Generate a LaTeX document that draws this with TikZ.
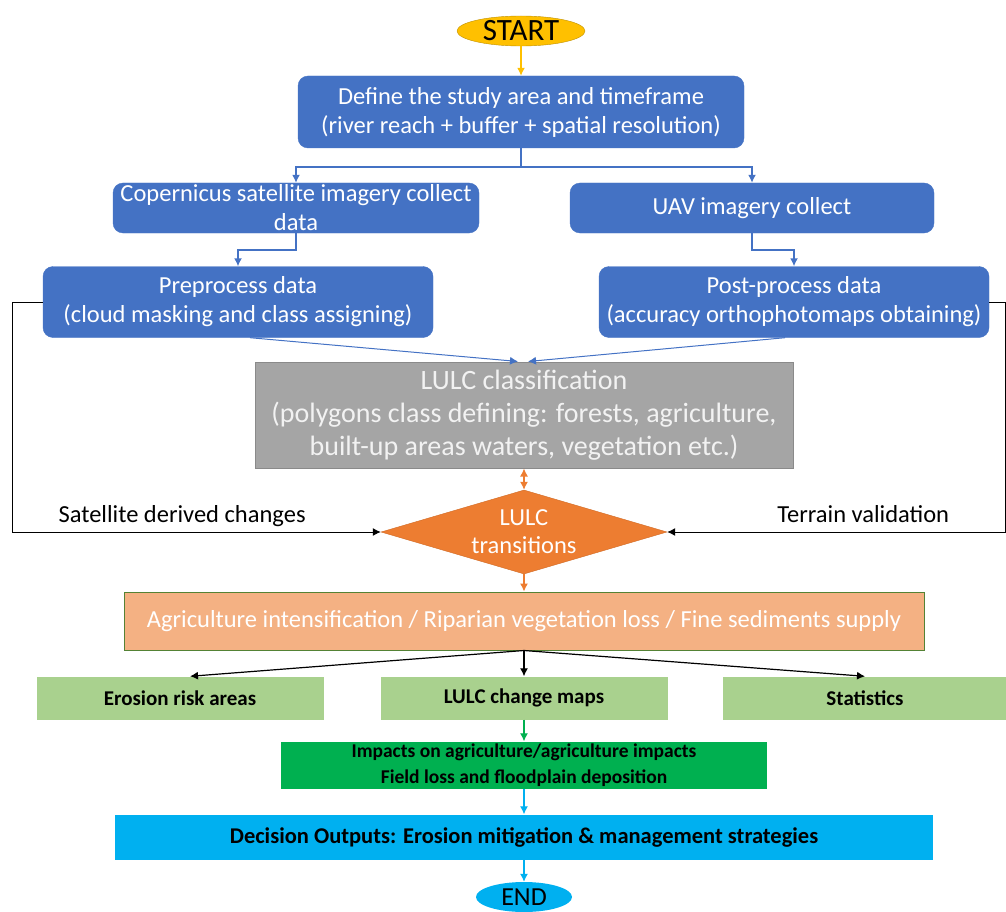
\documentclass[tikz,border=0pt]{standalone}
\usepackage{fontspec}
\setmainfont{Carlito}
\usetikzlibrary{shapes.geometric,arrows.meta}
\definecolor{boxblue}{HTML}{4472C4}
\definecolor{startyellow}{HTML}{FFC000}
\definecolor{startedge}{HTML}{BF9000}
\definecolor{classgray}{HTML}{A5A5A5}
\definecolor{classedge}{HTML}{8A8A8A}
\definecolor{transorange}{HTML}{ED7D31}
\definecolor{transedge}{HTML}{D06A25}
\definecolor{driverpeach}{HTML}{F4B183}
\definecolor{driveredge}{HTML}{548235}
\definecolor{outgreen}{HTML}{A9D18E}
\definecolor{impactgreen}{HTML}{00B050}
\definecolor{decisioncyan}{HTML}{00B0F0}
\tikzset{
  >={Latex[length=8pt,width=8pt]},
  bluebox/.style={rectangle, rounded corners=10pt, fill=boxblue, draw=boxblue, text=white, align=center, inner sep=0pt, font=\fontsize{24.5}{29}\selectfont},
  graybox/.style={rectangle, fill=classgray, draw=classedge, line width=1pt, text=white!95!black, align=center, inner sep=0pt, font=\fontsize{28}{33}\selectfont},
  greenbox/.style={rectangle, fill=outgreen, inner sep=0pt, align=center, font=\fontsize{21}{26}\selectfont\bfseries},
  bluearr/.style={draw=boxblue, line width=1.5pt, ->},
  thinarr/.style={draw=boxblue, line width=1pt, ->},
  blackarr/.style={draw=black, line width=1.2pt, ->},
  sidelabel/.style={font=\fontsize{24.5}{28}\selectfont, inner sep=0pt, anchor=base, yshift=10pt}
}
\begin{document}
\begin{tikzpicture}[x=1pt,y=1pt]
\useasboundingbox (0,0) rectangle (1006,-912);
\node (start) [ellipse, fill=startyellow, draw=startedge, minimum width=128pt, minimum height=30pt, inner sep=0pt, font=\fontsize{31}{32}\selectfont] at (521,-31) {START}; % top
\node (define) [bluebox, minimum width=446pt, minimum height=72pt, node distance=81pt, below of = start] {Define the study area and timeframe\\(river reach + buffer + spatial resolution)};
\node (coper) [bluebox, minimum width=366pt, minimum height=50pt, node distance=96pt, below of = define, xshift=-225pt] {Copernicus satellite imagery collect\\data};
\node (uav) [bluebox, minimum width=364pt, minimum height=50pt, node distance=96pt, below of = define, xshift=231pt] {UAV imagery collect};
\node (pre) [bluebox, minimum width=390pt, minimum height=71pt, node distance=94pt, below of = coper, xshift=-58pt] {Preprocess data\\(cloud masking and class assigning)};
\node (post) [bluebox, minimum width=390pt, minimum height=71pt, node distance=94pt, below of = uav, xshift=42pt] {Post-process data\\(accuracy orthophotomaps obtaining)};
\node (lulc) [graybox, minimum width=538pt, minimum height=106pt, node distance=303pt, below of = define, xshift=3pt] {LULC classification\\(polygons class defining: forests, agriculture,\\built-up areas waters, vegetation etc.)};
\node (trans) [diamond, aspect=3.4, fill=transorange, draw=transedge, text=white, align=center, inner sep=0pt, minimum width=286pt, minimum height=84pt, font=\fontsize{24.5}{28}\selectfont, node distance=117pt, below of = lulc] {LULC\\transitions};
\node (agri) [rectangle, fill=driverpeach, draw=driveredge, line width=1pt, text=white, inner sep=0pt, minimum width=800pt, minimum height=58pt, font=\fontsize{24.5}{28}\selectfont, node distance=89pt, below of = trans] {Agriculture intensification / Riparian vegetation loss / Fine sediments supply};
\node (maps) [greenbox, minimum width=287pt, minimum height=43pt, node distance=77pt, below of = agri] {LULC change maps};
\node (erosion) [greenbox, minimum width=287pt, minimum height=43pt, node distance=344pt, left of = maps] {Erosion risk areas};
\node (stats) [greenbox, minimum width=284pt, minimum height=43pt, node distance=341pt, right of = maps] {Statistics};
\node (impacts) [greenbox, fill=impactgreen, minimum width=486pt, minimum height=47pt, font=\fontsize{19.5}{26}\selectfont\bfseries, node distance=67pt, below of = maps] {Impacts on agriculture/agriculture impacts\\Field loss and floodplain deposition};
\node (decision) [greenbox, fill=decisioncyan, minimum width=818pt, minimum height=45pt, font=\fontsize{22.5}{26}\selectfont\bfseries, node distance=72pt, below of = impacts] {Decision Outputs: Erosion mitigation \& management strategies};
\node (end) [ellipse, fill=decisioncyan, minimum width=96pt, minimum height=30pt, inner sep=0pt, font=\fontsize{26}{28}\selectfont, node distance=60pt, below of = decision] {END};

\draw [draw=startyellow, line width=1.5pt, ->] (start) -- (define);
\draw [bluearr] (define.south) -- ++(0,-19) -| (coper.north);
\draw [bluearr] (define.south) -- ++(0,-19) -| (uav.north);
\draw [bluearr] (coper.south) -- ++(0,-17) -| (pre.north);
\draw [bluearr] (uav.south) -- ++(0,-17) -| (post.north);
\draw [thinarr] ([xshift=12pt]pre.south) -- ([xshift=-6pt]lulc.north);
\draw [thinarr] ([xshift=-9pt]post.south) -- ([xshift=4pt]lulc.north);
\draw [draw=transorange, line width=1.2pt, <->] (lulc) -- (trans);
\draw [draw=transorange, line width=1.2pt, ->] (trans) -- (agri);
\draw [blackarr] (agri.south) -- ([xshift=10pt]erosion.north);
\draw [blackarr] (agri.south) -- (maps);
\draw [blackarr] (agri.south) -- (stats.north);
\draw [draw=impactgreen, line width=1.2pt, ->] (maps) -- (impacts);
\draw [draw=decisioncyan, line width=1.2pt, ->] (impacts) -- (decision);
\draw [draw=decisioncyan, line width=1.2pt, ->] (decision) -- (end);

% feedback loops
\draw [black, line width=1pt, ->] (pre.west) -- ++(-30,0) |- (trans.west) node [sidelabel, pos=0.73] {Satellite derived changes};
\draw [black, line width=1pt, ->] (post.east) -- ++(16,0) |- (trans.east) node [sidelabel, pos=0.71] {Terrain validation};
\end{tikzpicture}
\end{document}
